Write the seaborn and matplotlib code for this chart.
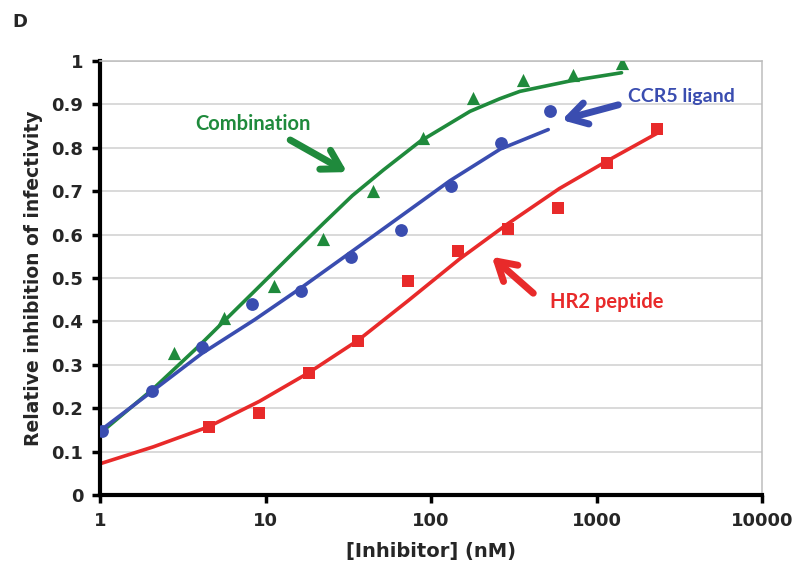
import numpy as np
import pandas as pd
import matplotlib
matplotlib.use('Agg')
import matplotlib.pyplot as plt
import seaborn as sns

comb_x = [2.8, 5.6, 11.2, 22.4, 44.8, 89.6, 179, 358, 717, 1434]
comb_y = [0.327, 0.407, 0.481, 0.589, 0.700, 0.822, 0.915, 0.956, 0.968, 0.996]

ccr5_x = [1.03, 2.06, 4.12, 8.24, 16.5, 33, 66, 132, 264, 527]
ccr5_y = [0.147, 0.240, 0.342, 0.439, 0.471, 0.548, 0.611, 0.713, 0.812, 0.885]

hr2_x = [4.55, 9.1, 18.2, 36.4, 72.8, 146, 291, 582, 1165, 2330]
hr2_y = [0.157, 0.190, 0.282, 0.356, 0.494, 0.563, 0.612, 0.662, 0.764, 0.843]

# fitted curves
comb_fit_x = [1, 2.1, 4.0, 5.7, 8.6, 14.7, 22.4, 33.5, 51.6, 86, 172, 260, 344, 691, 1417]
comb_fit_y = [0.142, 0.245, 0.345, 0.403, 0.470, 0.558, 0.626, 0.690, 0.749, 0.815, 0.884, 0.913, 0.930, 0.954, 0.973]

ccr5_fit_x = [1, 2.08, 4.12, 8.6, 16.5, 33.2, 66, 130, 262, 511]
ccr5_fit_y = [0.148, 0.240, 0.326, 0.404, 0.478, 0.561, 0.643, 0.724, 0.797, 0.842]

hr2_fit_x = [1, 2.1, 4.51, 9.2, 18.1, 36.4, 72.9, 149, 286, 596, 1150, 2311]
hr2_fit_y = [0.072, 0.111, 0.157, 0.216, 0.281, 0.357, 0.448, 0.544, 0.623, 0.706, 0.769, 0.833]

y_ticks = [0, 0.1, 0.2, 0.3, 0.4, 0.5, 0.6, 0.7, 0.8, 0.9, 1]
y_labels = ['0', '0.1', '0.2', '0.3', '0.4', '0.5', '0.6', '0.7', '0.8', '0.9', '1']
x_ticks = [1, 10, 100, 1000, 10000]
x_labels = ['1', '10', '100', '1000', '10000']

GREEN = '#1f8a3c'
BLUE = '#3a4db0'
RED = '#e82a2a'

sns.set_theme(style='white')
plt.rcParams['font.family'] = ['DejaVu Sans']

fig = plt.figure(figsize=(8, 5.74), dpi=100)
ax = fig.add_axes([0.125, 0.1376, 0.8275, 0.7561])
ax.set_xscale('log')

# curves
sns.lineplot(x=comb_fit_x, y=comb_fit_y, ax=ax, color=GREEN, lw=2.6, sort=False)
sns.lineplot(x=ccr5_fit_x, y=ccr5_fit_y, ax=ax, color=BLUE, lw=2.6, sort=False)
sns.lineplot(x=hr2_fit_x, y=hr2_fit_y, ax=ax, color=RED, lw=2.6, sort=False)

# data points
sns.scatterplot(x=comb_x, y=comb_y, ax=ax, marker='^', s=90, color=GREEN, linewidth=0, zorder=3)
sns.scatterplot(x=ccr5_x, y=ccr5_y, ax=ax, marker='o', s=85, color=BLUE, linewidth=0, zorder=3)
sns.scatterplot(x=hr2_x, y=hr2_y, ax=ax, marker='s', s=85, color=RED, linewidth=0, zorder=3)

ax.set_xlim(1, 10000)
ax.set_ylim(0, 1)
ax.set_yticks(y_ticks)
ax.set_yticklabels(y_labels, fontsize=13, fontweight='bold')
ax.set_xticks(x_ticks)
ax.set_xticklabels(x_labels, fontsize=13, fontweight='bold')
ax.xaxis.set_minor_locator(matplotlib.ticker.NullLocator())
ax.tick_params(axis='both', which='major', direction='out', length=6, width=2.5,
               color='black', pad=6, left=True, bottom=True)

ax.yaxis.grid(True, color='#cfcfcf', lw=1.1)
ax.xaxis.grid(False)
ax.set_axisbelow(True)
for side in ['left', 'bottom']:
    ax.spines[side].set_color('black')
    ax.spines[side].set_linewidth(3)
for side in ['top', 'right']:
    ax.spines[side].set_color('#bdbdbd')
    ax.spines[side].set_linewidth(1.1)

ax.set_xlabel('[Inhibitor] (nM)', fontsize=14, fontweight='bold', labelpad=9)
ax.set_ylabel('Relative inhibition of infectivity', fontsize=13.5, fontweight='bold', labelpad=6)

# labels with arrows
lbl = dict(fontweight='bold', family=['Lato', 'DejaVu Sans'], ha='center', va='center')
ax.text(8.4, 0.855, 'Combination', color=GREEN, fontsize=14.5, **lbl)
ax.text(3240, 0.918, 'CCR5 ligand', color=BLUE, fontsize=14, **lbl)
ax.text(1157, 0.445, 'HR2 peptide', color=RED, fontsize=14.5, **lbl)

def arrow(tail, head, c):
    ax.annotate('', xy=head, xytext=tail,
                arrowprops=dict(arrowstyle='->,head_length=1.1,head_width=0.65',
                                color=c, lw=5, shrinkA=0, shrinkB=0,
                                joinstyle='round', capstyle='round'))

arrow((14.1, 0.818), (31.1, 0.744), GREEN)
arrow((1355, 0.899), (617, 0.864), BLUE)
arrow((415, 0.465), (233, 0.549), RED)

fig.text(0.015, 0.962, 'D', fontsize=13, fontweight='bold', ha='left', va='center')

fig.savefig('out.png', dpi=100)
